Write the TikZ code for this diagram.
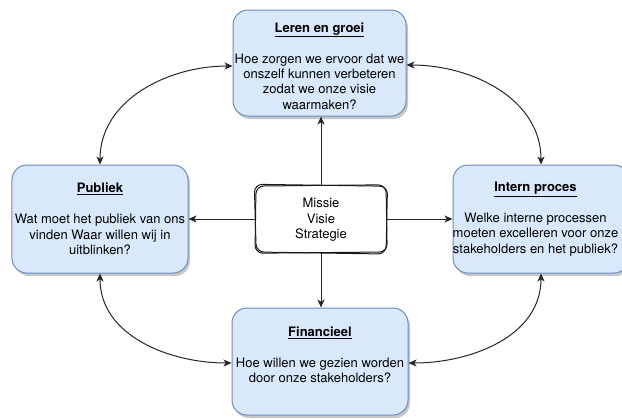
\documentclass[tikz,border=0pt]{standalone}
\usepackage{fontspec}
\setmainfont{TeX Gyre Heros}
\usetikzlibrary{arrows.meta,shadows}
\definecolor{boxfill}{HTML}{DAE8FC}
\definecolor{boxdraw}{HTML}{6C8EBF}
\begin{document}
\begin{tikzpicture}[x=1bp,y=-1bp,
  persp/.style={draw=boxdraw, fill=boxfill, rounded corners=15bp, line width=1bp,
    drop shadow={shadow xshift=2bp, shadow yshift=-3bp, fill=black, opacity=0.22}},
  txt/.style={align=center, font=\fontsize{13bp}{15.4bp}\selectfont, inner sep=0pt, text=black},
  conn/.style={line width=1bp, draw=black!85},
  tip/.tip={Stealth[length=8bp,width=7bp,inset=2.2bp]},
  sketch/.style={draw=black!90, line width=1bp, rounded corners=8bp}
]
\useasboundingbox (0,0) rectangle (622,418);

% perspective boxes
\node[persp, minimum width=173bp, minimum height=106bp] (leren) at (319.5,63) {};
\node[persp, minimum width=176bp, minimum height=108bp] (pub) at (100,219) {};
\node[persp, minimum width=176bp, minimum height=108bp] (intern) at (541,219) {};
\node[persp, minimum width=176bp, minimum height=107bp] (fin) at (320,361.5) {};

% texts
\node[txt] (lerenT) at (319.5,66) {\underline{\textbf{Leren en groei}}\\[15.4bp]Hoe zorgen we ervoor dat we\\onszelf kunnen verbeteren\\zodat we onze visie\\waarmaken?};
\node[txt] (pubT) at (100,219) {\underline{\textbf{Publiek}}\\[15.4bp]Wat moet het publiek van ons\\vinden Waar willen wij in\\uitblinken?};
\node[txt] (internT) at (535.5,219) {\underline{\textbf{Intern proces}}\\[15.4bp]Welke interne processen\\moeten excelleren voor onze\\stakeholders en het publiek?};
\node[txt] (finT) at (320,355) {\underline{\textbf{Financieel}}\\[15.4bp]Hoe willen we gezien worden\\door onze stakeholders?};

% center sketch box
\node[minimum width=132bp, minimum height=68bp, inner sep=0pt] (cen) at (321,219) {};
\fill[white, rounded corners=8bp] (255,185) rectangle (387,253);
\draw[sketch] (256,186) -- (386,184.8) -- (387.2,252) -- (255,253.2) -- cycle;
\draw[sketch] (254.3,184.3) -- (387.5,186.2) -- (386,254) -- (256.2,252) -- cycle;
\node[txt] (cenT) at (321,220) {Missie\\Visie\\Strategie};

% straight connectors
\draw[conn, -{tip}] (cen.north) -- (cen.north |- leren.south);
\draw[conn, -{tip}] (cen.west) -- (pub.east);
\draw[conn, -{tip}] (cen.east) -- (intern.west);
\draw[conn, -{tip}] (cen.south) -- (cen.south |- fin.north);

% curved connectors
\draw[conn, {tip}-{tip}] (pub.north) to[out=90,in=180] ([yshift=-3bp]leren.west);
\draw[conn, {tip}-{tip}] ([yshift=-2bp]leren.east) to[out=0,in=90] (intern.north);
\draw[conn, {tip}-{tip}] (pub.south) to[out=-90,in=180] ([yshift=-1.5bp]fin.west);
\draw[conn, {tip}-{tip}] ([yshift=-1.5bp]fin.east) to[out=0,in=-90] (intern.south);
\end{tikzpicture}
\end{document}
